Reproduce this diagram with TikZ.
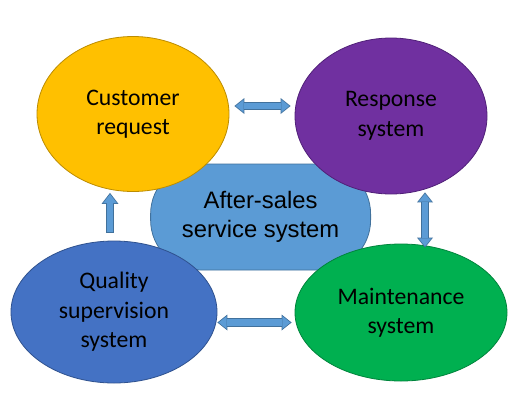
\documentclass[tikz,border=0pt]{standalone}
\usepackage{fontspec}
\setmainfont{Carlito}
\newfontfamily\arialfont{Liberation Sans}
\usetikzlibrary{shapes.geometric,arrows.meta,calc}

\definecolor{custfill}{HTML}{FFC000}
\definecolor{custline}{HTML}{BC8C00}
\definecolor{respfill}{HTML}{7030A0}
\definecolor{respline}{HTML}{502078}
\definecolor{qualfill}{HTML}{4472C4}
\definecolor{qualline}{HTML}{2F528F}
\definecolor{maintfill}{HTML}{00B050}
\definecolor{maintline}{HTML}{00843C}
\definecolor{servfill}{HTML}{5B9BD5}
\definecolor{servline}{HTML}{41719C}

\tikzset{
  blob/.style={ellipse, draw, line width=0.8pt, inner sep=0pt, align=center,
    font=\fontsize{23.7}{29.5}\selectfont},
  hub/.style={rectangle, rounded corners=50pt, draw=servline, fill=servfill,
    line width=0.8pt, minimum width=220pt, minimum height=106pt, align=center,
    font=\arialfont\fontsize{23.8}{29.5}\selectfont},
  dblarrow/.style={draw=servline, line width=8.5pt,
    {Triangle[width=16pt,length=10pt,line width=0pt]}-{Triangle[width=16pt,length=10pt,line width=0pt]},
    postaction={draw=servfill, line width=6.9pt, shorten <=1.3pt, shorten >=1.3pt,
      {Triangle[width=12.7pt,length=7.9pt,line width=0pt]}-{Triangle[width=12.7pt,length=7.9pt,line width=0pt]}}},
  onearrow/.style={draw=servline, line width=8.5pt,
    -{Triangle[width=17pt,length=11pt,line width=0pt]},
    postaction={draw=servfill, line width=6.9pt, shorten <=0.8pt, shorten >=1.3pt,
      -{Triangle[width=13.6pt,length=8.8pt,line width=0pt]}}},
}

\begin{document}
\begin{tikzpicture}[x=1pt, y=-1pt]

    \fill[white] (0,0) rectangle (529,407);

    \node[hub] (serv) at (260.6,217) {After-sales\\service system};

    \node[blob, draw=custline, fill=custfill, minimum width=192pt, minimum height=155pt]
      (cust) at (133,114) {Customer\\request};
    \node[blob, draw=respline, fill=respfill, minimum width=192pt, minimum height=156pt]
      (resp) at (391,116) {Response\\system};
    \node[blob, draw=qualline, fill=qualfill, minimum width=206pt, minimum height=142pt]
      (qual) at (114,312) {Quality\\supervision\\system};
    \node[blob, draw=maintline, fill=maintfill, minimum width=212pt, minimum height=137pt]
      (maint) at (401,312.5) {Maintenance\\system};

    % block arrows between the parts
    \draw[dblarrow] ($(cust.east)+(5,-8)$) -- ($(resp.west)+(-4,-10)$);
    \draw[dblarrow] ($(resp.south)+(34,-2)$) -- ($(maint.north)+(24,4)$);
    \draw[dblarrow] ($(qual.east)+(0,10.5)$) -- ($(maint.west)+(-3,10)$);
    \draw[onearrow] ($(qual.north)+(-4,-8)$) -- ($(cust.south)+(-23,1)$);

\end{tikzpicture}
\end{document}
